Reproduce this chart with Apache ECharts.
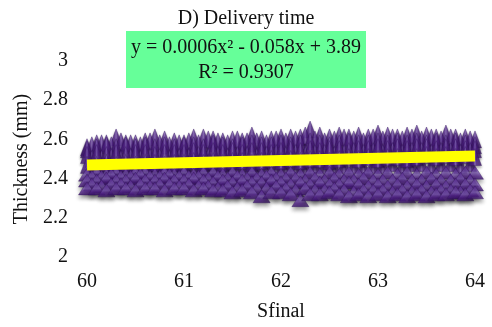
<!DOCTYPE html>
<html lang="en">

<head>
    <meta charset="UTF-8">
    <title>D) Delivery time</title>
    <script src="https://cdn.jsdelivr.net/npm/echarts@6/dist/echarts.min.js"></script>
    <style>
        html, body { margin: 0; padding: 0; background: #fff; }
    </style>
</head>

<body>
    <div id="chart" style="width: 492px; height: 327px;"></div>
    <script>
        // Sfinal positions (x) and thickness rows
        let xs = [60.0, 60.1, 60.2, 60.3, 60.4, 60.5, 60.6, 60.7, 60.8, 60.9,
            61.0, 61.1, 61.2, 61.3, 61.4, 61.5, 61.6, 61.7, 61.8, 61.9,
            62.0, 62.1, 62.2, 62.3, 62.4, 62.5, 62.6, 62.7, 62.8, 62.9,
            63.0, 63.1, 63.2, 63.3, 63.4, 63.5, 63.6, 63.7, 63.8, 63.9, 64.0];
        let xsMid = [60.05, 60.15, 60.25, 60.35, 60.45, 60.55, 60.65, 60.75, 60.85, 60.95,
            61.05, 61.15, 61.25, 61.35, 61.45, 61.55, 61.65, 61.75, 61.85, 61.95,
            62.05, 62.15, 62.25, 62.35, 62.45, 62.55, 62.65, 62.75, 62.85, 62.95,
            63.05, 63.15, 63.25, 63.35, 63.45, 63.55, 63.65, 63.75, 63.85, 63.95];

        let row1 = [2.56, 2.58, 2.58, 2.61, 2.58, 2.58, 2.59, 2.61, 2.60, 2.59,
            2.58, 2.61, 2.61, 2.60, 2.59, 2.60, 2.59, 2.62, 2.60, 2.60,
            2.61, 2.61, 2.61, 2.65, 2.62, 2.61, 2.62, 2.61, 2.62, 2.61,
            2.63, 2.62, 2.61, 2.62, 2.63, 2.62, 2.61, 2.63, 2.61, 2.61, 2.60];
        let mid1 = [2.57, 2.58, 2.57, 2.59, 2.58, 2.57, 2.59, 2.58, 2.57, 2.58,
            2.59, 2.58, 2.60, 2.59, 2.58, 2.60, 2.59, 2.59, 2.58, 2.60,
            2.59, 2.60, 2.62, 2.60, 2.59, 2.60, 2.61, 2.60, 2.59, 2.61,
            2.60, 2.61, 2.60, 2.61, 2.60, 2.61, 2.60, 2.61, 2.59, 2.60];
        let row2 = [2.55, 2.56, 2.57, 2.56, 2.57, 2.56, 2.57, 2.56, 2.57, 2.56,
            2.57, 2.57, 2.56, 2.58, 2.57, 2.56, 2.57, 2.58, 2.57, 2.57,
            2.58, 2.57, 2.58, 2.59, 2.58, 2.57, 2.58, 2.59, 2.58, 2.58,
            2.59, 2.58, 2.59, 2.58, 2.59, 2.58, 2.59, 2.58, 2.59, 2.58, 2.57];
        let row3 = [2.52, 2.53, 2.52, 2.53, 2.52, 2.53, 2.53, 2.52, 2.53, 2.53,
            2.53, 2.54, 2.53, 2.54, 2.53, 2.54, 2.53, 2.54, 2.54, 2.53,
            2.54, 2.55, 2.54, 2.55, 2.54, 2.55, 2.55, 2.54, 2.55, 2.55,
            2.56, 2.55, 2.56, 2.55, 2.56, 2.56, 2.55, 2.56, 2.56, 2.55, 2.55];
        let mid2 = [2.50, 2.50, 2.51, 2.50, 2.51, 2.50, 2.51, 2.51, 2.50, 2.51,
            2.51, 2.52, 2.51, 2.52, 2.51, 2.52, 2.52, 2.51, 2.52, 2.53,
            2.52, 2.53, 2.52, 2.53, 2.53, 2.52, 2.53, 2.54, 2.53, 2.54,
            2.53, 2.54, 2.53, 2.54, 2.54, 2.53, 2.54, 2.54, 2.53, 2.54];
        let row4 = [2.47, 2.47, 2.48, 2.47, 2.48, 2.47, 2.48, 2.48, 2.47, 2.48,
            2.48, 2.49, 2.48, 2.49, 2.48, 2.49, 2.49, 2.48, 2.49, 2.50,
            2.49, 2.50, 2.49, 2.50, 2.50, 2.49, 2.50, 2.51, 2.50, 2.51,
            2.50, 2.51, 2.51, 2.50, 2.51, 2.52, 2.51, 2.52, 2.51, 2.52, 2.51];
        let mid3 = [2.45, 2.45, 2.44, 2.45, 2.45, 2.44, 2.45, 2.45, 2.44, 2.45,
            2.45, 2.46, 2.45, 2.46, 2.45, 2.46, 2.46, 2.45, 2.46, 2.46,
            2.46, 2.47, 2.46, 2.47, 2.47, 2.46, 2.47, 2.47, 2.46, 2.47,
            2.47, 2.48, 2.47, 2.48, 2.48, 2.47, 2.48, 2.48, 2.47, 2.48];
        let row5 = [2.42, 2.43, 2.42, 2.43, 2.42, 2.43, 2.43, 2.42, 2.43, 2.42,
            2.43, 2.42, 2.43, 2.43, 2.42, 2.43, 2.42, 2.43, 2.42, 2.43,
            2.42, 2.43, 2.42, 2.43, 2.42, 2.43, 2.42, 2.43, 2.42, 2.43,
            2.42, 2.43, 2.42, 2.43, 2.42, 2.43, 2.42, 2.43, 2.42, 2.43, 2.43];
        let mid4 = [2.41, 2.41, 2.42, 2.41, 2.41, 2.42, 2.41, 2.41, 2.42, 2.41,
            2.41, 2.41, 2.40, 2.41, 2.40, 2.41, 2.40, 2.40, 2.41, 2.40,
            2.40, 2.40, 2.39, 2.40, 2.39, 2.40, 2.39, 2.39, 2.40, 2.39,
            2.39, 2.39, 2.40, 2.39, 2.39, 2.40, 2.39, 2.39, 2.40, 2.39];
        let row6 = [2.39, 2.39, 2.40, 2.39, 2.39, 2.40, 2.39, 2.39, 2.40, 2.39,
            2.39, 2.40, 2.39, 2.38, 2.39, 2.38, 2.39, 2.38, 2.38, 2.39,
            2.38, 2.37, 2.38, 2.37, 2.38, 2.37, 2.37, 2.38, 2.37, 2.36,
            2.37, 2.36, 2.37, 2.36, 2.37, 2.36, 2.37, 2.36, 2.37, 2.37, 2.37];
        let mid5 = [2.37, 2.36, 2.37, 2.37, 2.36, 2.37, 2.36, 2.37, 2.37, 2.36,
            2.37, 2.36, 2.36, 2.35, 2.36, 2.35, 2.36, 2.35, 2.35, 2.36,
            2.35, 2.34, 2.35, 2.34, 2.34, 2.35, 2.34, 2.33, 2.34, 2.34,
            2.34, 2.33, 2.34, 2.33, 2.34, 2.33, 2.34, 2.34, 2.33, 2.34];
        let row7 = [2.35, 2.35, 2.34, 2.35, 2.35, 2.34, 2.35, 2.35, 2.34, 2.35,
            2.35, 2.34, 2.35, 2.34, 2.34, 2.33, 2.34, 2.33, 2.31, 2.33,
            2.33, 2.32, 2.29, 2.32, 2.32, 2.33, 2.32, 2.31, 2.32, 2.31,
            2.32, 2.31, 2.32, 2.31, 2.32, 2.31, 2.32, 2.32, 2.33, 2.32, 2.33];

        // polynomial trend (drawn as seen on the picture)
        let trendX = [60, 64];
        let trendY = [2.470, 2.515];

        let yTicks = [2, 2.2, 2.4, 2.6, 2.8, 3];
        let xTicks = [60, 61, 62, 63, 64];

        let font = '"Liberation Serif", "Times New Roman", serif';

        function pairs(xv, r) {
            let out = [];
            for (let i = 0; i < xv.length; i++) out.push([xv[i], r[i]]);
            return out;
        }

        // top rows first so the lower ones sit in front
        let upperPts = [];
        [[xs, row1], [xsMid, mid1], [xs, row2], [xsMid, mid2], [xs, row3], [xsMid, mid3], [xs, row4]].forEach(function (p) {
            upperPts = upperPts.concat(pairs(p[0], p[1]));
        });
        let lowerPts = [];
        [[xs, row5], [xsMid, mid4], [xs, row6], [xsMid, mid5], [xs, row7]].forEach(function (p) {
            lowerPts = lowerPts.concat(pairs(p[0], p[1]));
        });

        let myChart = echarts.init(document.getElementById('chart'));

        let option = {
            animation: false,
            title: {
                text: 'D) Delivery time',
                left: 'center',
                top: 4,
                textStyle: { fontFamily: font, fontSize: 20, fontWeight: 'normal', color: '#111' }
            },
            grid: { left: 87, right: 17, top: 61, bottom: 68 },
            xAxis: {
                type: 'value',
                min: xTicks[0],
                max: xTicks[xTicks.length - 1],
                interval: 1,
                name: 'Sfinal',
                nameLocation: 'middle',
                nameGap: 45,
                nameTextStyle: { fontFamily: font, fontSize: 20, color: '#111' },
                axisLine: { show: false },
                axisTick: { show: false },
                splitLine: { show: false },
                axisLabel: { fontFamily: font, fontSize: 20, color: '#111', margin: 15 }
            },
            yAxis: {
                type: 'value',
                min: yTicks[0],
                max: yTicks[yTicks.length - 1],
                interval: 0.2,
                name: 'Thickness (mm)',
                nameLocation: 'middle',
                nameGap: 54,
                nameTextStyle: { fontFamily: font, fontSize: 20, color: '#111' },
                axisLine: { show: false },
                axisTick: { show: false },
                splitLine: { show: false },
                axisLabel: { fontFamily: font, fontSize: 20, color: '#111', margin: 19 }
            },
            graphic: [
                {
                    type: 'rect',
                    shape: { x: 126, y: 31, width: 240, height: 57 },
                    style: { fill: '#66ff99' },
                    z: 10
                },
                {
                    type: 'text',
                    x: 246, y: 48,
                    style: {
                        text: 'y = 0.0006x² - 0.058x + 3.89',
                        font: '20px ' + font,
                        fill: '#111',
                        align: 'center',
                        verticalAlign: 'middle'
                    },
                    z: 11
                },
                {
                    type: 'text',
                    x: 246, y: 73,
                    style: {
                        text: 'R² = 0.9307',
                        font: '20px ' + font,
                        fill: '#111',
                        align: 'center',
                        verticalAlign: 'middle'
                    },
                    z: 11
                }
            ],
            series: [
                {
                    name: 'Thickness',
                    type: 'scatter',
                    symbol: 'triangle',
                    symbolSize: [13, 17],
                    data: upperPts,
                    itemStyle: {
                        color: new echarts.graphic.LinearGradient(0, 0, 1, 0, [
                            { offset: 0, color: '#3a136c' },
                            { offset: 0.38, color: '#52228a' },
                            { offset: 0.5, color: '#7f5cb6' },
                            { offset: 0.6, color: '#52228a' },
                            { offset: 1, color: '#36115f' }
                        ]),
                        borderColor: '#35135f',
                        borderWidth: 0.5,
                        shadowBlur: 3,
                        shadowOffsetY: 2,
                        shadowColor: 'rgba(0,0,0,0.45)'
                    }
                },
                {
                    name: 'Thickness low',
                    type: 'scatter',
                    symbol: 'triangle',
                    symbolSize: [17, 13],
                    data: lowerPts,
                    itemStyle: {
                        color: new echarts.graphic.LinearGradient(0, 0, 0, 1, [
                            { offset: 0, color: '#54248c' },
                            { offset: 0.5, color: '#7d5bb4' },
                            { offset: 0.75, color: '#52228a' },
                            { offset: 1, color: '#3a136c' }
                        ]),
                        borderColor: '#35135f',
                        borderWidth: 0.5,
                        shadowBlur: 4,
                        shadowOffsetY: 3,
                        shadowColor: 'rgba(0,0,0,0.5)'
                    }
                },
                {
                    name: 'Trend',
                    type: 'line',
                    symbol: 'none',
                    data: [[trendX[0], trendY[0]], [trendX[1], trendY[1]]],
                    lineStyle: { color: '#ffff00', width: 11 },
                    z: 5
                }
            ]
        };

        myChart.setOption(option);
    </script>
</body>

</html>
